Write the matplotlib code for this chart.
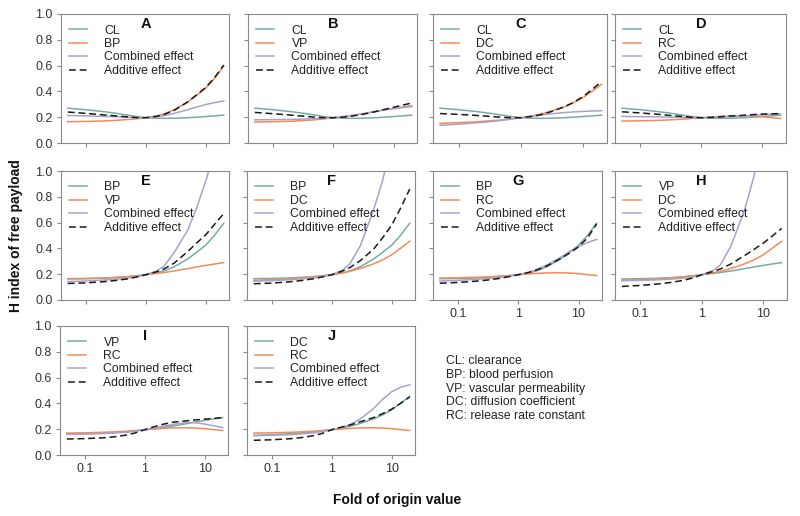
import matplotlib
matplotlib.use("Agg")
import matplotlib.pyplot as plt
from matplotlib.ticker import FixedLocator, NullLocator, FixedFormatter, NullFormatter

plt.rcParams['font.family'] = ['Liberation Sans', 'DejaVu Sans']

# ---------------- data ----------------
fold = [0.05, 0.1, 0.2, 0.3, 0.5, 0.7, 1, 1.5, 2, 3, 5, 7, 10, 14, 20]

# single-parameter effects
CL = [0.270, 0.258, 0.243, 0.232, 0.216, 0.205, 0.196, 0.192, 0.191, 0.192, 0.196, 0.200, 0.205, 0.210, 0.216]
BP = [0.165, 0.167, 0.171, 0.175, 0.182, 0.188, 0.196, 0.210, 0.225, 0.258, 0.318, 0.368, 0.425, 0.500, 0.595]
VP = [0.163, 0.165, 0.169, 0.173, 0.180, 0.187, 0.196, 0.205, 0.213, 0.225, 0.243, 0.256, 0.268, 0.279, 0.290]
DC = [0.152, 0.158, 0.165, 0.171, 0.179, 0.187, 0.196, 0.210, 0.222, 0.245, 0.280, 0.310, 0.350, 0.400, 0.455]
RC = [0.170, 0.172, 0.176, 0.179, 0.185, 0.190, 0.196, 0.202, 0.206, 0.210, 0.211, 0.209, 0.204, 0.197, 0.190]

# combined and additive effects per panel
comb_A = [0.213, 0.210, 0.206, 0.204, 0.200, 0.198, 0.196, 0.203, 0.212, 0.230, 0.258, 0.278, 0.298, 0.313, 0.325]
add_A  = [0.240, 0.230, 0.218, 0.211, 0.202, 0.197, 0.196, 0.206, 0.220, 0.254, 0.318, 0.372, 0.430, 0.505, 0.605]
comb_B = [0.180, 0.181, 0.183, 0.185, 0.188, 0.192, 0.196, 0.205, 0.213, 0.226, 0.245, 0.256, 0.266, 0.274, 0.282]
add_B  = [0.237, 0.227, 0.216, 0.209, 0.200, 0.196, 0.196, 0.201, 0.208, 0.221, 0.243, 0.260, 0.277, 0.293, 0.310]
comb_C = [0.137, 0.146, 0.157, 0.164, 0.175, 0.186, 0.196, 0.207, 0.215, 0.225, 0.236, 0.241, 0.245, 0.248, 0.250]
add_C  = [0.228, 0.222, 0.213, 0.207, 0.199, 0.196, 0.196, 0.206, 0.217, 0.241, 0.280, 0.314, 0.359, 0.414, 0.475]
comb_D = [0.206, 0.204, 0.202, 0.200, 0.198, 0.197, 0.196, 0.198, 0.200, 0.204, 0.210, 0.214, 0.218, 0.222, 0.225]
add_D  = [0.242, 0.233, 0.222, 0.214, 0.205, 0.199, 0.196, 0.199, 0.203, 0.209, 0.215, 0.220, 0.224, 0.226, 0.228]
comb_E = [0.143, 0.147, 0.155, 0.160, 0.170, 0.180, 0.196, 0.225, 0.260, 0.370, 0.540, 0.710, 0.920, 1.150, 1.450]
add_E  = [0.128, 0.133, 0.142, 0.150, 0.164, 0.178, 0.196, 0.218, 0.240, 0.287, 0.375, 0.440, 0.505, 0.585, 0.670]
comb_F = [0.146, 0.150, 0.157, 0.163, 0.172, 0.182, 0.196, 0.230, 0.280, 0.420, 0.700, 0.920, 1.220, 1.600, 2.100]
add_F  = [0.126, 0.131, 0.141, 0.150, 0.165, 0.179, 0.196, 0.224, 0.251, 0.305, 0.395, 0.480, 0.580, 0.710, 0.860]
comb_G = [0.147, 0.152, 0.160, 0.166, 0.176, 0.185, 0.196, 0.216, 0.235, 0.272, 0.330, 0.375, 0.415, 0.445, 0.470]
add_G  = [0.130, 0.136, 0.146, 0.154, 0.168, 0.181, 0.196, 0.214, 0.232, 0.265, 0.320, 0.362, 0.412, 0.480, 0.590]
comb_H = [0.150, 0.152, 0.157, 0.161, 0.169, 0.178, 0.196, 0.228, 0.270, 0.420, 0.700, 0.950, 1.300, 1.750, 2.400]
add_H  = [0.105, 0.113, 0.125, 0.135, 0.152, 0.170, 0.196, 0.220, 0.240, 0.280, 0.345, 0.390, 0.440, 0.495, 0.555]
comb_I = [0.160, 0.162, 0.166, 0.170, 0.177, 0.185, 0.196, 0.210, 0.222, 0.238, 0.252, 0.250, 0.240, 0.226, 0.213]
add_I  = [0.124, 0.127, 0.133, 0.140, 0.155, 0.172, 0.196, 0.222, 0.238, 0.255, 0.265, 0.272, 0.278, 0.284, 0.290]
comb_J = [0.150, 0.153, 0.158, 0.163, 0.172, 0.183, 0.196, 0.215, 0.235, 0.280, 0.360, 0.430, 0.490, 0.525, 0.545]
add_J  = [0.114, 0.118, 0.126, 0.134, 0.150, 0.168, 0.196, 0.218, 0.232, 0.258, 0.290, 0.320, 0.355, 0.400, 0.450]

panels = [
    ("A", "CL", CL, "BP", BP, comb_A, add_A),
    ("B", "CL", CL, "VP", VP, comb_B, add_B),
    ("C", "CL", CL, "DC", DC, comb_C, add_C),
    ("D", "CL", CL, "RC", RC, comb_D, add_D),
    ("E", "BP", BP, "VP", VP, comb_E, add_E),
    ("F", "BP", BP, "DC", DC, comb_F, add_F),
    ("G", "BP", BP, "RC", RC, comb_G, add_G),
    ("H", "VP", VP, "DC", DC, comb_H, add_H),
    ("I", "VP", VP, "RC", RC, comb_I, add_I),
    ("J", "DC", DC, "RC", RC, comb_J, add_J),
]

y_ticks = [0.0, 0.2, 0.4, 0.6, 0.8, 1.0]
y_ticklabels = ["0.0", "0.2", "0.4", "0.6", "0.8", "1.0"]
x_ticks = [0.1, 1, 10]
x_ticklabels = ["0.1", "1", "10"]

footnote = ["CL: clearance", "BP: blood perfusion", "VP: vascular permeability",
            "DC: diffusion coefficient", "RC: release rate constant"]

# ---------------- layout ----------------
W, H = 800, 516
fig = plt.figure(figsize=(W / 100, H / 100), dpi=100)

rects = {
    "A": (61, 14, 168), "B": (248, 14, 169), "C": (433, 14, 174), "D": (615, 14, 171),
    "E": (61, 171, 168), "F": (247, 171, 168), "G": (433, 171, 169), "H": (615, 171, 172),
    "I": (60, 326, 168), "J": (247, 326, 168),
}
AH = 129
ylab_panels = {"A", "E", "I"}
xlab_panels = {"G", "H", "I", "J"}

c1 = "#76aca6"
c2 = "#f28b57"
c3 = "#a7a2cd"
cadd = "#1a1a1a"
spine_c = "#8a8a8a"
tick_lbl_c = "#333333"

for letter, n1, s1, n2, s2, comb, add in panels:
    l, t, w = rects[letter]
    ax = fig.add_axes([l / W, 1 - (t + AH) / H, w / W, AH / H])
    ax.plot(fold, s1, color=c1, lw=1.1, label=n1)
    ax.plot(fold, s2, color=c2, lw=1.1, label=n2)
    ax.plot(fold, comb, color=c3, lw=1.1, label="Combined effect")
    ax.plot(fold, add, color=cadd, lw=1.1, dashes=(4.5, 2.5), label="Additive effect")
    ax.set_xscale("log")
    ax.set_xlim(0.0385, 24.5)
    ax.set_ylim(0, 1)
    ax.xaxis.set_major_locator(FixedLocator(x_ticks))
    ax.xaxis.set_minor_locator(NullLocator())
    ax.yaxis.set_major_locator(FixedLocator(y_ticks))
    if letter in xlab_panels:
        ax.xaxis.set_major_formatter(FixedFormatter(x_ticklabels))
    else:
        ax.xaxis.set_major_formatter(NullFormatter())
    if letter in ylab_panels:
        ax.yaxis.set_major_formatter(FixedFormatter(y_ticklabels))
    else:
        ax.yaxis.set_major_formatter(NullFormatter())
    ax.xaxis.set_minor_formatter(NullFormatter())
    ax.tick_params(direction="out", length=3, width=0.8, color=spine_c,
                   labelsize=9, labelcolor=tick_lbl_c, pad=3)
    for sp in ax.spines.values():
        sp.set_color(spine_c)
        sp.set_linewidth(0.8)
    ax.text(1, 0.92, letter, transform=ax.get_xaxis_transform(), ha="center", va="center",
            fontsize=10.5, fontweight="bold", color="#111111")
    leg = ax.legend(loc="upper left", bbox_to_anchor=(8 / w, 1 - 10.5 / AH), frameon=False,
                    borderaxespad=0, borderpad=0, fontsize=8.8, handlelength=1.5,
                    handletextpad=1.4, labelspacing=0.12)
    for txt in leg.get_texts():
        txt.set_color("#222222")

# axis titles
fig.text(16 / W, 1 - 236 / H, "H index of free payload", rotation=90, ha="center", va="center",
         fontsize=10, fontweight="bold", color="#111111")
fig.text(397 / W, 1 - 500 / H, "Fold of origin value", ha="center", va="center",
         fontsize=10, fontweight="bold", color="#111111")

# abbreviations
for i, line in enumerate(footnote):
    fig.text(446 / W, 1 - (361 + i * 13.8) / H, line, ha="left", va="center",
             fontsize=8.8, color="#222222")

fig.savefig("out.png", dpi=100, facecolor="white")
